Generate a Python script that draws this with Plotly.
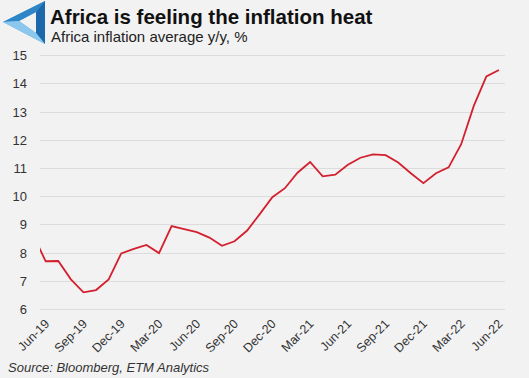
import plotly.graph_objects as go

months = ["May-19","Jun-19","Jul-19","Aug-19","Sep-19","Oct-19","Nov-19","Dec-19",
          "Jan-20","Feb-20","Mar-20","Apr-20","May-20","Jun-20","Jul-20","Aug-20","Sep-20","Oct-20","Nov-20","Dec-20",
          "Jan-21","Feb-21","Mar-21","Apr-21","May-21","Jun-21","Jul-21","Aug-21","Sep-21","Oct-21","Nov-21","Dec-21",
          "Jan-22","Feb-22","Mar-22","Apr-22","May-22","Jun-22"]
inflation = [8.64, 7.71, 7.72, 7.07, 6.61, 6.69, 7.07, 7.99,
             8.15, 8.29, 8.00, 8.96, 8.85, 8.74, 8.55, 8.26, 8.42, 8.80, 9.38, 9.98,
             10.30, 10.85, 11.23, 10.72, 10.78, 11.13, 11.38, 11.50, 11.47, 11.21, 10.83, 10.48,
             10.83, 11.04, 11.86, 13.22, 14.26, 14.49]
tick_labels = ["Jun-19","Sep-19","Dec-19","Mar-20","Jun-20","Sep-20","Dec-20",
               "Mar-21","Jun-21","Sep-21","Dec-21","Mar-22","Jun-22"]

W, H = 529, 378
L, R, T, B = 40, 24, 50, 65
pw, ph = W - L - R, H - T - B

def px(x):
    return (x - L) / pw

def py(y):
    return (H - B - y) / ph

idx = list(range(len(months)))
tick_idx = [months.index(m) for m in tick_labels]

fig = go.Figure()
fig.add_trace(go.Scatter(x=idx, y=inflation, mode="lines",
                         line=dict(color="#d3202e", width=1.8),
                         hovertext=months, showlegend=False))

bg = "#f2f2f2"
fig.update_layout(
    width=W, height=H,
    margin=dict(l=L, r=R, t=T, b=B),
    paper_bgcolor=bg, plot_bgcolor=bg,
    font=dict(family="Liberation Sans, Arial, sans-serif", color="#333333"),
    xaxis=dict(range=[0.547, 37.48], tickmode="array", tickvals=tick_idx, ticktext=tick_labels,
               tickangle=-45, tickfont=dict(size=12.5, color="#333333"),
               showgrid=False, zeroline=False, showline=False, ticks=""),
    yaxis=dict(range=[5.876, 15.2], tickvals=list(range(6, 16)),
               tickfont=dict(size=13, color="#333333"),
               showgrid=True, gridcolor="#dcdcdc", gridwidth=1, zeroline=False,
               ticklabelstandoff=12),
)

# Title & subtitle
fig.add_annotation(x=px(48), y=py(16), xref="paper", yref="paper", xanchor="left", yanchor="middle",
                   text="<b>Africa is feeling the inflation heat</b>", showarrow=False,
                   font=dict(size=20.5, color="#111111", family="Liberation Sans, Arial, sans-serif"))
fig.add_annotation(x=px(49), y=py(36), xref="paper", yref="paper", xanchor="left", yanchor="middle",
                   text="Africa inflation average y/y, %", showarrow=False,
                   font=dict(size=15, color="#222222"))
# Source
fig.add_annotation(x=px(6), y=py(367), xref="paper", yref="paper", xanchor="left", yanchor="middle",
                   text="<i>Source: Bloomberg, ETM Analytics</i>", showarrow=False,
                   font=dict(size=13, color="#333333"))

# Logo (impossible-triangle style)
def path(points):
    return "M " + " L ".join(f"{px(a)},{py(b)}" for a, b in points) + " Z"

fig.add_shape(type="path", xref="paper", yref="paper",
              path=path([(3, 22), (45, 1), (45, 44)]), fillcolor="#4ea6dd", line=dict(width=0), layer="above")
fig.add_shape(type="path", xref="paper", yref="paper",
              path=path([(19, 21), (36, 12), (36, 33)]), fillcolor=bg, line=dict(width=0), layer="above")
fig.add_shape(type="path", xref="paper", yref="paper",
              path=path([(3, 22), (45, 1), (36, 12), (19, 21)]), fillcolor="#2f86c6", line=dict(width=0), layer="above")
fig.add_shape(type="path", xref="paper", yref="paper",
              path=path([(36, 12), (45, 1), (45, 44), (36, 33)]), fillcolor="#1c68aa", line=dict(width=0), layer="above")
fig.add_shape(type="path", xref="paper", yref="paper",
              path=path([(3, 22), (19, 21), (36, 33), (45, 44)]), fillcolor="#8cc8ee", line=dict(width=0), layer="above")

fig.write_html("out.html", config={"displayModeBar": False},
               post_script="document.body.style.margin='0';document.body.style.background='#f2f2f2';")
